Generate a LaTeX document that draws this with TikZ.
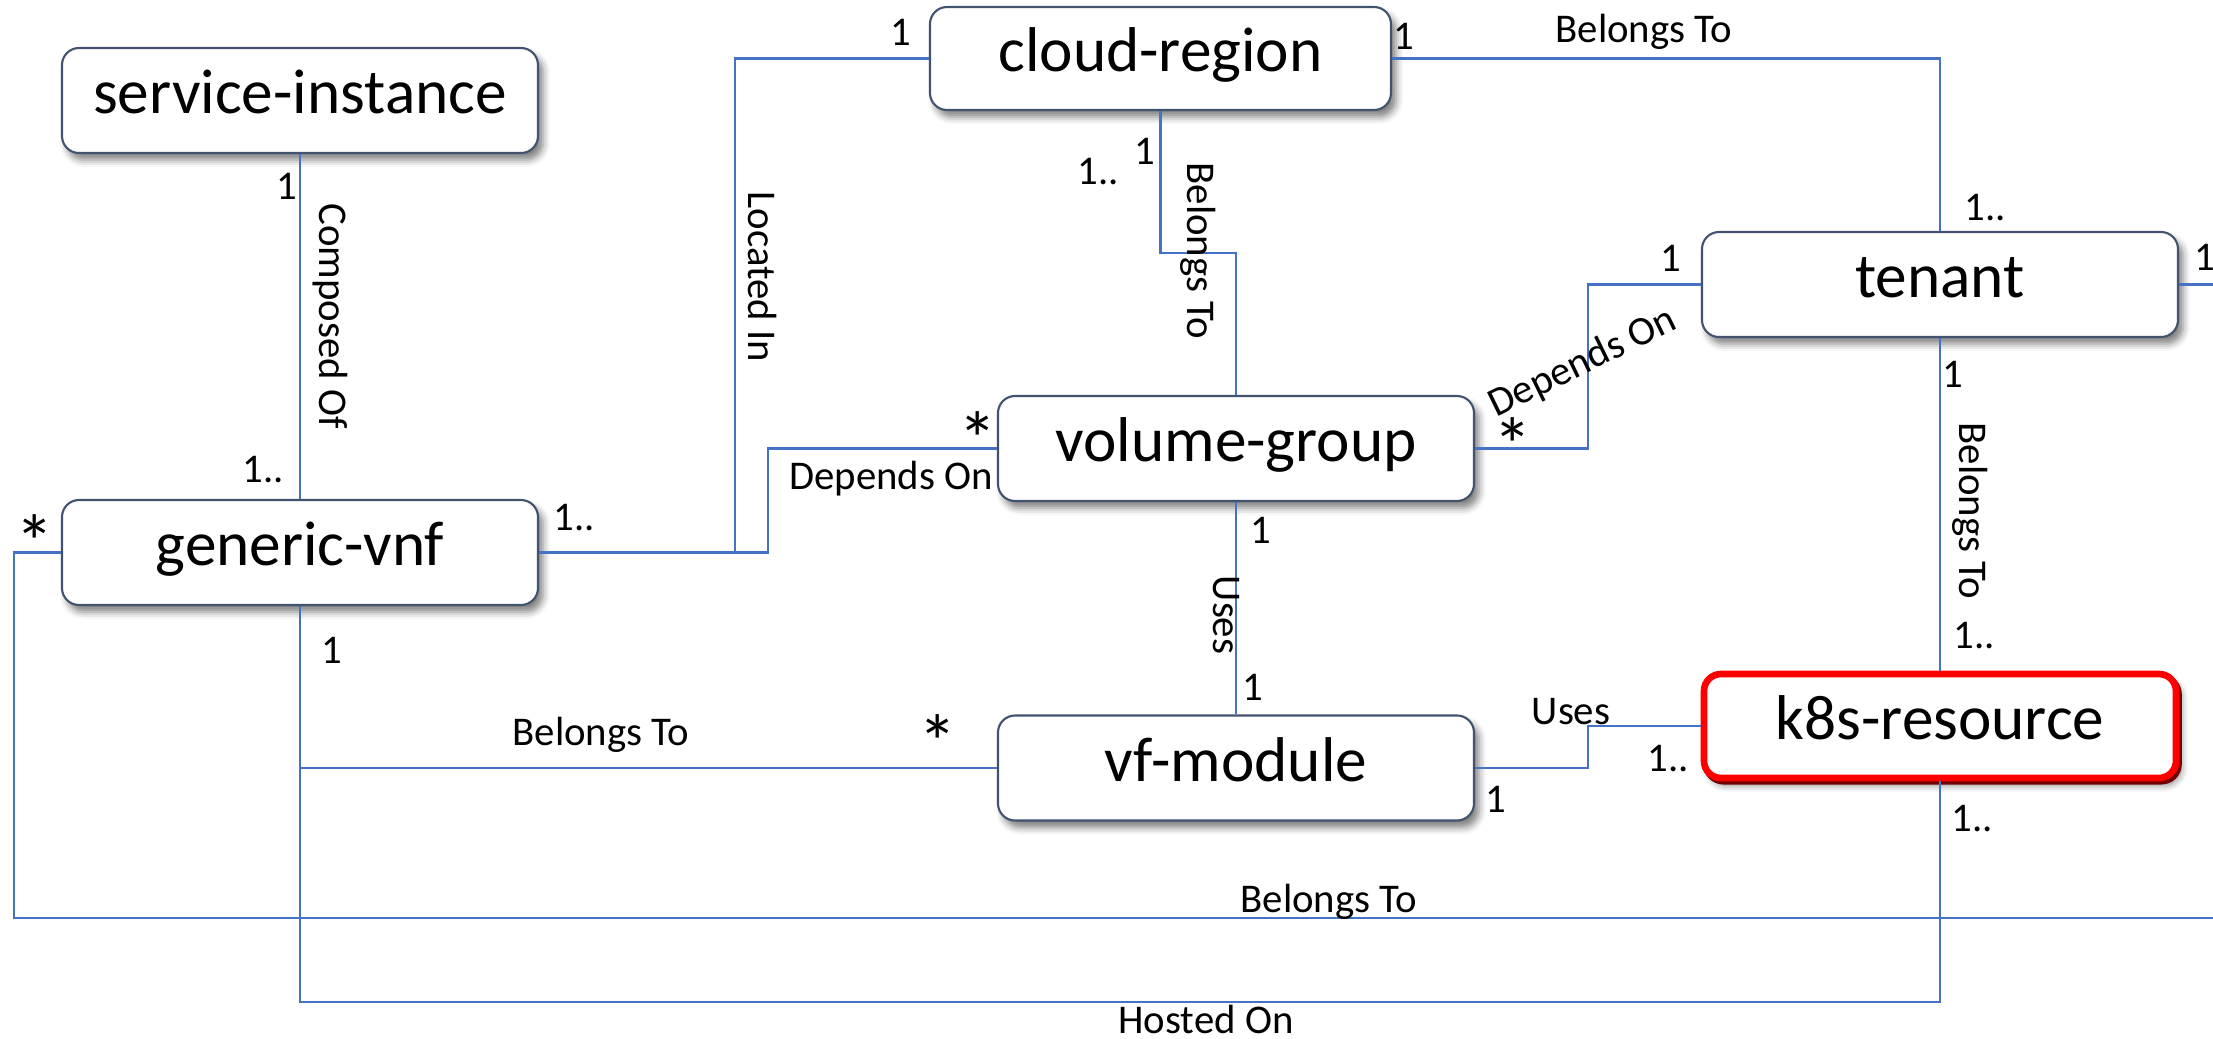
\documentclass[tikz,border=0pt]{standalone}
\usepackage{fontspec}
\setmainfont{Carlito}
\usetikzlibrary{shadows.blur}
\definecolor{linkblue}{RGB}{68,114,196}
\definecolor{boxline}{RGB}{65,83,110}
\tikzset{%
  entity/.style={draw=boxline, line width=0.6pt, fill=white,
    rounded corners=0.17cm, minimum width=4.76cm, minimum height=1.05cm,
    inner sep=0pt, font=\fontsize{18}{20}\selectfont,
    text height=0.99em, text depth=0.23em,
    blur shadow={shadow xshift=0.05cm, shadow yshift=-0.07cm,
      shadow blur radius=0.07cm, shadow opacity=50}%
  },%
  focus/.style={entity, draw=red, line width=1.9pt,
    minimum width=4.72cm, minimum height=1.04cm,
    preaction={draw=red!45!black, line width=1.9pt,
      transform canvas={shift={(0.7pt,-0.9pt)}}}%
  },%
  link/.style={draw=linkblue, line width=0.65pt},%
  mult/.style={font=\fontsize{11.6}{13}\selectfont, anchor=base, inner sep=0pt},%
  star/.style={font=\fontsize{22}{24}\selectfont, anchor=base, inner sep=0pt},%
  rel/.style={font=\fontsize{11.6}{13}\selectfont, inner sep=0pt}%
}

\begin{document}
\begin{tikzpicture}
  \useasboundingbox (0,0) rectangle (22.13,10.38);
  % entities
  \node[entity] (si) at (3.00,9.375)  {service-instance};
  \node[entity] (gv) at (3.00,4.855)  {generic-vnf};
  \node[entity,minimum width=4.61cm,minimum height=1.03cm] (cr) at (11.605,9.795) {cloud-region};
  \node[entity] (vg) at (12.36,5.895) {volume-group};
  \node[entity] (tn) at (19.40,7.535) {tenant};
  \node[entity] (vf) at (12.36,2.70)  {vf-module};
  \node[focus]  (k8) at (19.40,3.12)  {k8s-resource};
  % coordinates
  \coordinate (li) at (7.35,9.795);
  \coordinate (dp) at (7.68,5.895);
  \coordinate (bt) at (12.0,7.85);
  \coordinate (dt) at (15.88,6.7);
  \coordinate (us) at (15.88,2.9);
  \coordinate (ho) at (11.0,0.36);
  \coordinate (bl) at (0.14,1.20);
  \coordinate (br) at (22.13,1.20);
  \coordinate (tr) at (22.13,7.535);
  % links
  \draw[link] (si.south) -- (gv.north);
  \draw[link] (gv.east) -| (li) -- (cr.west);
  \draw[link] (gv.east) -| (dp) -- (vg.west);
  \draw[link] (cr.south) |- (bt) -| (vg.north);
  \draw[link] (cr.east) -| (tn.north);
  \draw[link] (vg.east) -| (dt) |- (tn.west);
  \draw[link] (tn.east) -- (tr);
  \draw[link] (tn.south) -- (k8.north);
  \draw[link] (vg.south) -- (vf.north);
  \draw[link] (vf.east) -| (us) |- (k8.west);
  \draw[link] (gv.south) |- (vf.west);
  \draw[link] (gv.south) |- (ho) -| (k8.south);
  \draw[link] (gv.west) -| (bl) -- (br);
  % service-instance / generic-vnf
  \node[mult] (m1) at (2.87,8.39) {1};
  \node[mult] (m2) at (2.63,5.56) {1..};
  \node[rel,rotate=-90] (r1) at (3.30,7.22) {Composed Of};
  \node[mult] (m3) at (5.74,5.08) {1..};
  \node[star] (m4) at (0.345,4.69) {*};
  \node[mult] (m5) at (3.32,3.75) {1};
  % cloud-region
  \node[rel,rotate=-90] (r2) at (7.62,7.61) {Located In};
  \node[mult] (m6) at (9.01,9.93) {1};
  \node[mult] (m7) at (14.04,9.88) {1};
  \node[mult] (m8) at (11.45,8.74) {1};
  \node[mult] (m9) at (10.98,8.54) {1..};
  \node[rel,rotate=-90] (r3) at (11.98,7.87) {Belongs To};
  \node[mult] (r4) at (16.44,9.95) {Belongs To};
  % volume-group
  \node[star] (m10) at (9.78,5.72) {*};
  \node[mult] (r5) at (8.91,5.49) {Depends On};
  \node[star] (m11) at (15.13,5.655) {*};
  \node[rel,rotate=26] (r6) at (15.83,6.75) {Depends On};
  \node[mult] (m12) at (12.61,4.95) {1};
  \node[rel,rotate=-90] (r7) at (12.26,4.23) {Uses};
  \node[mult] (m13) at (12.53,3.38) {1};
  % tenant
  \node[mult] (m14) at (19.85,8.18) {1..};
  \node[mult] (m15) at (16.71,7.67) {1};
  \node[mult] (m16) at (22.05,7.68) {1};
  \node[mult] (m17) at (19.53,6.51) {1};
  \node[rel,rotate=-90] (r8) at (19.70,5.27) {Belongs To};
  \node[mult] (m18) at (19.74,3.90) {1..};
  % vf-module / k8s-resource
  \node[mult] (r9) at (15.71,3.14) {Uses};
  \node[mult] (m19) at (16.68,2.67) {1..};
  \node[mult] (m20) at (14.96,2.26) {1};
  \node[mult] (m21) at (19.72,2.07) {1..};
  \node[mult] (r10) at (6.01,2.93) {Belongs To};
  \node[star] (m22) at (9.38,2.69) {*};
  % bottom
  \node[mult] (r11) at (13.29,1.26) {Belongs To};
  \node[mult] (r12) at (12.06,0.05) {Hosted On};
\end{tikzpicture}
\end{document}
